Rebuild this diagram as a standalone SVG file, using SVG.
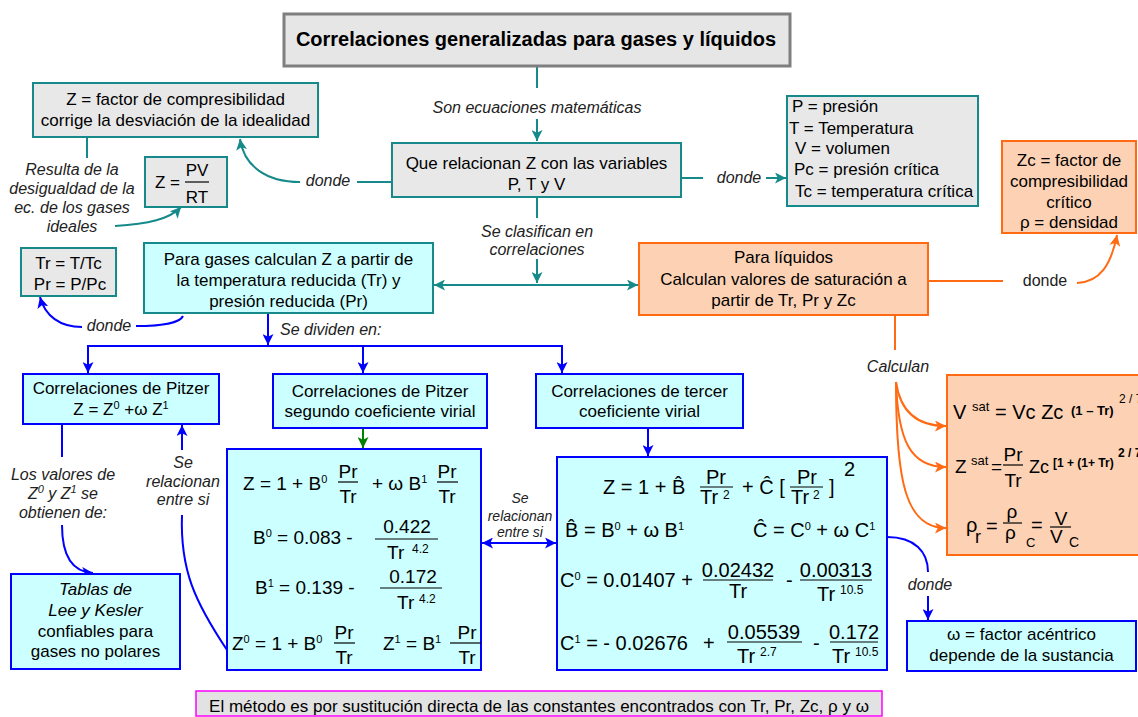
<svg xmlns="http://www.w3.org/2000/svg" width="1138" height="717" viewBox="0 0 1138 717">
<style>
text{font-family:"Liberation Sans",Arial,sans-serif;fill:#000}
.n{font-size:17px}
.lab{font-size:16px;font-style:italic;fill:#222}
.f{font-size:19px}
.v{font-size:20px}
.sup{font-size:11px}
.sm{font-size:12px}
.bg{fill:#e8e8e8;stroke:#168a8a;stroke-width:2}
.bc{fill:#ccffff;stroke:#168a8a;stroke-width:2}
.bb{fill:#ccffff;stroke:#0000ff;stroke-width:2}
.bo{fill:#fdd2b4;stroke:#ff6a13;stroke-width:2}
.teal{stroke:#168a8a;stroke-width:2;fill:none}
.blue{stroke:#0000ff;stroke-width:2;fill:none}
.org{stroke:#ff6a13;stroke-width:2;fill:none}
.grn{stroke:#008000;stroke-width:2;fill:none}
.fl{stroke:#000;stroke-width:1.2}
</style>
<defs>
<marker id="at" viewBox="0 0 10 10" refX="10" refY="5" markerWidth="11" markerHeight="11" markerUnits="userSpaceOnUse" orient="auto-start-reverse"><path d="M0,0 L10,5 L0,10 L2.5,5 z" fill="#168a8a"/></marker>
<marker id="ab" viewBox="0 0 10 10" refX="10" refY="5" markerWidth="11" markerHeight="11" markerUnits="userSpaceOnUse" orient="auto-start-reverse"><path d="M0,0 L10,5 L0,10 L2.5,5 z" fill="#0000ff"/></marker>
<marker id="ao" viewBox="0 0 10 10" refX="10" refY="5" markerWidth="11" markerHeight="11" markerUnits="userSpaceOnUse" orient="auto-start-reverse"><path d="M0,0 L10,5 L0,10 L2.5,5 z" fill="#ff6a13"/></marker>
<marker id="ag" viewBox="0 0 10 10" refX="10" refY="5" markerWidth="11" markerHeight="11" markerUnits="userSpaceOnUse" orient="auto-start-reverse"><path d="M0,0 L10,5 L0,10 L2.5,5 z" fill="#008000"/></marker>
</defs>

<g id="connectors">
<path class="teal" d="M537 67 V88"/>
<path class="teal" d="M537 119 V141" marker-end="url(#at)"/>
<path class="teal" d="M392 182 H357"/>
<path class="teal" d="M300 182 C266 182 244 166 240 139" marker-end="url(#at)"/>
<path class="teal" d="M681 178 H703"/>
<path class="teal" d="M766 178 H786" marker-end="url(#at)"/>
<path class="teal" d="M537 197 V218"/>
<path class="teal" d="M537 259 V283" marker-end="url(#at)"/>
<path class="teal" d="M434 285 H638" marker-start="url(#at)" marker-end="url(#at)"/>
<path class="teal" d="M87 137 V158"/>
<path class="teal" d="M115 226 C148 224 170 219 181 207" marker-end="url(#at)"/>
<path class="org" d="M928 281 H1003"/>
<path class="org" d="M1077 283 C1100 282 1111 265 1117 235" marker-end="url(#ao)"/>
<path class="org" d="M895 315 V350"/>
<path class="org" d="M896 382 C900 410 915 426 946 426" marker-end="url(#ao)"/>
<path class="org" d="M896 382 C898 440 910 467 946 467" marker-end="url(#ao)"/>
<path class="org" d="M896 382 C896 480 905 528 946 528" marker-end="url(#ao)"/>
<path class="blue" d="M136 326 C160 326 180 323 183 316"/>
<path class="blue" d="M82 327 C60 327 45 316 40 297" marker-end="url(#ab)"/>
<path class="blue" d="M268 313 V345" marker-end="url(#ab)"/>
<path class="blue" d="M87 346 H563"/>
<path class="blue" d="M88 346 V373" marker-end="url(#ab)"/>
<path class="blue" d="M363 346 V373" marker-end="url(#ab)"/>
<path class="blue" d="M562 346 V373" marker-end="url(#ab)"/>
<path class="blue" d="M62 424 V457"/>
<path class="blue" d="M62 525 C62 555 72 572 93 573" marker-end="url(#ab)"/>
<path class="blue" d="M182 450 V425" marker-end="url(#ab)"/>
<path class="blue" d="M182 515 C180 570 195 602 227 650"/>
<path class="grn" d="M363 428 V448" marker-end="url(#ag)"/>
<path class="blue" d="M482 543 H556" marker-start="url(#ab)" marker-end="url(#ab)"/>
<path class="blue" d="M648 428 V456" marker-end="url(#ab)"/>
<path class="blue" d="M887 537 C915 537 928 552 928 572"/>
<path class="blue" d="M928 596 V620" marker-end="url(#ab)"/>
</g>

<g id="labels">
<text class="lab" x="537" y="113" text-anchor="middle">Son ecuaciones matemáticas</text>
<text class="lab" x="328" y="186" text-anchor="middle">donde</text>
<text class="lab" x="739" y="183" text-anchor="middle">donde</text>
<text class="lab" x="537" y="237" text-anchor="middle">Se clasifican en</text>
<text class="lab" x="537" y="255" text-anchor="middle">correlaciones</text>
<text class="lab" x="72" y="175" text-anchor="middle">Resulta de la</text>
<text class="lab" x="72" y="194" text-anchor="middle">desigualdad de la</text>
<text class="lab" x="72" y="213" text-anchor="middle">ec. de los gases</text>
<text class="lab" x="72" y="232" text-anchor="middle">ideales</text>
<text x="1045" y="286" text-anchor="middle" style="font-size:16px;fill:#222">donde</text>
<text class="lab" x="898" y="372" text-anchor="middle">Calculan</text>
<text class="lab" x="109" y="331" text-anchor="middle">donde</text>
<text class="lab" x="280" y="335">Se dividen en:</text>
<text class="lab" x="63" y="480" text-anchor="middle">Los valores de</text>
<text class="lab" x="63" y="499" text-anchor="middle">Z<tspan class="sup" dy="-6">0</tspan><tspan dy="6"> y Z</tspan><tspan class="sup" dy="-6">1</tspan><tspan dy="6"> se</tspan></text>
<text class="lab" x="63" y="518" text-anchor="middle">obtienen de:</text>
<text class="lab" x="183" y="468" text-anchor="middle">Se</text>
<text class="lab" x="183" y="487" text-anchor="middle">relacionan</text>
<text class="lab" x="183" y="505" text-anchor="middle">entre si</text>
<text class="lab" x="520" y="503" text-anchor="middle" style="font-size:14px">Se</text>
<text class="lab" x="520" y="521" text-anchor="middle" style="font-size:14px">relacionan</text>
<text class="lab" x="520" y="537" text-anchor="middle" style="font-size:14px">entre si</text>
<text class="lab" x="930" y="590" text-anchor="middle">donde</text>
</g>

<g id="title">
<rect x="284" y="14" width="506" height="52" fill="#e6e6e6" stroke="#7f7f7f" stroke-width="3"/>
<text x="536" y="46" text-anchor="middle" style="font-size:20px;font-weight:bold">Correlaciones generalizadas para gases y líquidos</text>
</g>

<g id="z-def">
<rect class="bg" x="33" y="83" width="285" height="54"/>
<text class="n" x="175.5" y="105" text-anchor="middle">Z = factor de compresibilidad</text>
<text class="n" x="175.5" y="126" text-anchor="middle">corrige la desviación de la idealidad</text>
</g>

<g id="z-pvrt">
<rect class="bg" x="145" y="157" width="82" height="50"/>
<text class="n" x="155" y="188">Z =</text>
<text class="n" x="197" y="176" text-anchor="middle">PV</text>
<line class="fl" x1="185" y1="182" x2="209" y2="182"/>
<text class="n" x="197" y="203" text-anchor="middle">RT</text>
</g>

<g id="que-relacionan">
<rect class="bg" x="392" y="143" width="289" height="54"/>
<text class="n" x="536.5" y="169" text-anchor="middle">Que relacionan Z con las variables</text>
<text class="n" x="536.5" y="190" text-anchor="middle">P, T y V</text>
</g>

<g id="variables">
<rect class="bg" x="787" y="96" width="191" height="110"/>
<text class="n" x="792" y="112">P = presión</text>
<text class="n" x="789" y="134">T = Temperatura</text>
<text class="n" x="795" y="154">V = volumen</text>
<text class="n" x="794" y="175">Pc = presión crítica</text>
<text class="n" x="795" y="197">Tc = temperatura crítica</text>
</g>

<g id="zc-def">
<rect class="bo" x="1002" y="141" width="134" height="92"/>
<text class="n" x="1069" y="166" text-anchor="middle">Zc = factor de</text>
<text class="n" x="1069" y="187" text-anchor="middle">compresibilidad</text>
<text class="n" x="1069" y="208" text-anchor="middle">crítico</text>
<text class="n" x="1069" y="228" text-anchor="middle">ρ = densidad</text>
</g>

<g id="tr-pr">
<rect class="bg" x="21" y="248" width="95" height="48"/>
<text class="n" x="68.5" y="269" text-anchor="middle">Tr = T/Tc</text>
<text class="n" x="70" y="290" text-anchor="middle">Pr = P/Pc</text>
</g>

<g id="para-gases">
<rect class="bc" x="144" y="243" width="289" height="70"/>
<text class="n" x="288.5" y="265" text-anchor="middle">Para gases  calculan Z a partir de</text>
<text class="n" x="288.5" y="286" text-anchor="middle">la temperatura reducida (Tr) y</text>
<text class="n" x="288.5" y="307" text-anchor="middle">presión reducida (Pr)</text>
</g>

<g id="para-liquidos">
<rect class="bo" x="639" y="243" width="289" height="72"/>
<text class="n" x="783.5" y="263" text-anchor="middle">Para líquidos</text>
<text class="n" x="783.5" y="285" text-anchor="middle">Calculan valores de saturación a</text>
<text class="n" x="783.5" y="306" text-anchor="middle">partir de Tr, Pr y Zc</text>
</g>

<g id="pitzer">
<rect class="bb" x="23" y="374" width="196" height="50"/>
<text class="n" x="121" y="394" text-anchor="middle">Correlaciones de Pitzer</text>
<text class="n" x="121" y="415" text-anchor="middle">Z = Z<tspan class="sup" dy="-6">0</tspan><tspan dy="6"> +ω Z</tspan><tspan class="sup" dy="-6">1</tspan></text>
</g>

<g id="pitzer-virial">
<rect class="bb" x="273" y="374" width="214" height="54"/>
<text class="n" x="380" y="397" text-anchor="middle">Correlaciones de Pitzer</text>
<text class="n" x="380" y="417" text-anchor="middle">segundo coeficiente virial</text>
</g>

<g id="tercer-virial">
<rect class="bb" x="536" y="374" width="207" height="54"/>
<text class="n" x="639.5" y="397" text-anchor="middle">Correlaciones de tercer</text>
<text class="n" x="639.5" y="417" text-anchor="middle">coeficiente virial</text>
</g>

<g id="tablas">
<rect class="bb" x="11" y="574" width="169" height="95"/>
<text class="n" x="95.5" y="595" text-anchor="middle" font-style="italic">Tablas de</text>
<text class="n" x="95.5" y="616" text-anchor="middle" font-style="italic">Lee y Kesler</text>
<text class="n" x="95.5" y="637" text-anchor="middle">confiables para</text>
<text class="n" x="95.5" y="657" text-anchor="middle">gases no polares</text>
</g>

<g id="pitzer-eqs">
<rect class="bb" x="227" y="449" width="254" height="221"/>
<text class="f" x="243" y="490">Z = 1 + B<tspan class="sup" dy="-7">0</tspan></text>
<text class="f" x="348" y="478" text-anchor="middle">Pr</text>
<line class="fl" x1="338" y1="482" x2="358" y2="482"/>
<text class="f" x="348" y="503" text-anchor="middle">Tr</text>
<text class="f" x="372" y="490">+ ω B<tspan class="sup" dy="-7">1</tspan></text>
<text class="f" x="447" y="478" text-anchor="middle">Pr</text>
<line class="fl" x1="437" y1="482" x2="458" y2="482"/>
<text class="f" x="447" y="503" text-anchor="middle">Tr</text>
<text class="f" x="253" y="544">B<tspan class="sup" dy="-7">0</tspan><tspan dy="7"> = 0.083 -</tspan></text>
<text class="f" x="407" y="533" text-anchor="middle">0.422</text>
<line class="fl" x1="375" y1="539" x2="438" y2="539"/>
<text class="f" x="387" y="559">Tr</text>
<text class="sm" x="412" y="553">4.2</text>
<text class="f" x="255" y="594">B<tspan class="sup" dy="-7">1</tspan><tspan dy="7"> = 0.139 -</tspan></text>
<text class="f" x="413" y="583" text-anchor="middle">0.172</text>
<line class="fl" x1="380" y1="588" x2="442" y2="588"/>
<text class="f" x="397" y="609">Tr</text>
<text class="sm" x="419" y="603">4.2</text>
<text class="f" x="232" y="650">Z<tspan class="sup" dy="-7">0</tspan><tspan dy="7"> = 1 + B</tspan><tspan class="sup" dy="-7">0</tspan></text>
<text class="f" x="344" y="639" text-anchor="middle">Pr</text>
<line class="fl" x1="334" y1="643" x2="355" y2="643"/>
<text class="f" x="344" y="664" text-anchor="middle">Tr</text>
<text class="f" x="383" y="650">Z<tspan class="sup" dy="-7">1</tspan><tspan dy="7"> = B</tspan><tspan class="sup" dy="-7">1</tspan></text>
<text class="f" x="467" y="639" text-anchor="middle">Pr</text>
<line class="fl" x1="450" y1="643" x2="481" y2="643"/>
<text class="f" x="467" y="664" text-anchor="middle">Tr</text>
</g>

<g id="virial-eqs">
<rect class="bb" x="557" y="457" width="330" height="213"/>
<text class="v" x="603" y="494">Z = 1 + B̂</text>
<text class="v" x="716" y="484" text-anchor="middle">Pr</text>
<line class="fl" x1="700" y1="487" x2="733" y2="487"/>
<text class="v" x="700" y="504">Tr</text>
<text class="sm" x="723" y="499">2</text>
<text class="v" x="742" y="494">+ Ĉ [</text>
<text class="v" x="807" y="484" text-anchor="middle">Pr</text>
<line class="fl" x1="790" y1="487" x2="823" y2="487"/>
<text class="v" x="791" y="504">Tr</text>
<text class="sm" x="813" y="499">2</text>
<text class="v" x="829" y="494">]</text>
<text class="v" x="844" y="476">2</text>
<text class="v" x="565" y="537">B̂ = B<tspan class="sup" dy="-7">0</tspan><tspan dy="7"> + ω B</tspan><tspan class="sup" dy="-7">1</tspan></text>
<text class="v" x="753" y="537">Ĉ = C<tspan class="sup" dy="-7">0</tspan><tspan dy="7"> + ω C</tspan><tspan class="sup" dy="-7">1</tspan></text>
<text class="v" x="560" y="587">C<tspan class="sup" dy="-7">0</tspan><tspan dy="7"> = 0.01407 +</tspan></text>
<text class="v" x="738" y="577" text-anchor="middle">0.02432</text>
<line class="fl" x1="703" y1="580" x2="773" y2="580"/>
<text class="v" x="738" y="598" text-anchor="middle">Tr</text>
<text class="v" x="786" y="587">-</text>
<text class="v" x="836" y="577" text-anchor="middle">0.00313</text>
<line class="fl" x1="800" y1="580" x2="872" y2="580"/>
<text class="v" x="817" y="601">Tr</text>
<text class="sm" x="840" y="594">10.5</text>
<text class="v" x="560" y="650">C<tspan class="sup" dy="-7">1</tspan><tspan dy="7"> = - 0.02676</tspan></text>
<text class="v" x="703" y="650">+</text>
<text class="v" x="764" y="639" text-anchor="middle">0.05539</text>
<line class="fl" x1="727" y1="642" x2="802" y2="642"/>
<text class="v" x="737" y="663">Tr</text>
<text class="sm" x="760" y="656">2.7</text>
<text class="v" x="813" y="650">-</text>
<text class="v" x="854" y="639" text-anchor="middle">0.172</text>
<line class="fl" x1="830" y1="642" x2="878" y2="642"/>
<text class="v" x="832" y="663">Tr</text>
<text class="sm" x="855" y="656">10.5</text>
</g>

<g id="liquid-eqs">
<rect class="bo" x="947" y="375" width="195" height="180"/>
<text x="953" y="419" style="font-size:20px">V</text>
<text x="972" y="411" style="font-size:13px">sat</text>
<text x="995" y="419" style="font-size:20px">= Vc Zc</text>
<text x="1071" y="415" style="font-size:13px;font-weight:bold">(1 – Tr)</text>
<text x="1119" y="403" style="font-size:12px">2 / 7</text>
<text x="955" y="473" style="font-size:19px">Z</text>
<text x="971" y="465" style="font-size:13px">sat</text>
<text x="991" y="473" style="font-size:19px">=</text>
<text x="1013" y="461" text-anchor="middle" style="font-size:19px">Pr</text>
<line class="fl" x1="1003" y1="465" x2="1023" y2="465"/>
<text x="1013" y="487" text-anchor="middle" style="font-size:19px">Tr</text>
<text x="1029" y="473" style="font-size:18px">Zc</text>
<text x="1053" y="467" style="font-size:12px;font-weight:bold">[1 + (1+ Tr)</text>
<text x="1118" y="457" style="font-size:12px;font-weight:bold">2 / 7</text>
<text x="966" y="532" style="font-size:20px">ρ</text>
<text x="975" y="543" style="font-size:18px">r</text>
<text x="986" y="533" style="font-size:20px">=</text>
<text x="1012" y="518" text-anchor="middle" style="font-size:19px">ρ</text>
<line class="fl" x1="1003" y1="523" x2="1022" y2="523"/>
<text x="1005" y="539" style="font-size:19px">ρ</text>
<text x="1026" y="547" style="font-size:13px">C</text>
<text x="1031" y="532" style="font-size:20px">=</text>
<text x="1061" y="525" text-anchor="middle" style="font-size:19px">V</text>
<line class="fl" x1="1050" y1="527" x2="1071" y2="527"/>
<text x="1050" y="543" style="font-size:19px">V</text>
<text x="1069" y="547" style="font-size:14px">C</text>
</g>

<g id="omega">
<rect class="bb" x="907" y="621" width="229" height="50"/>
<text class="n" x="1021.5" y="640" text-anchor="middle">ω = factor acéntrico</text>
<text class="n" x="1021.5" y="661" text-anchor="middle">depende de la sustancia</text>
</g>

<g id="metodo">
<rect x="196" y="691" width="686" height="25" fill="#e2e2e2" stroke="#ff00ff" stroke-width="1.5"/>
<text x="539" y="712" text-anchor="middle" style="font-size:17px">El método es por sustitución directa de las constantes encontrados con Tr, Pr, Zc, ρ y ω</text>
</g>
</svg>
